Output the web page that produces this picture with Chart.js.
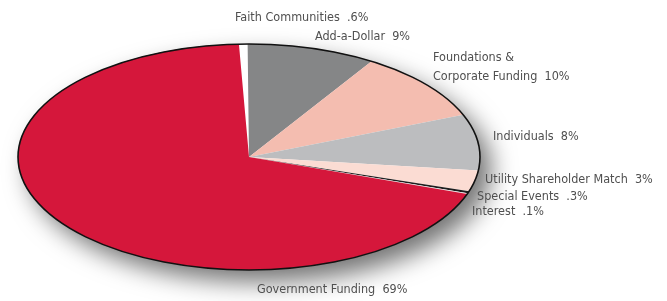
<!DOCTYPE html>
<html>
<head>
<meta charset="utf-8">
<script src="https://cdn.jsdelivr.net/npm/chart.js@4"></script>
<style>
  html, body { margin: 0; padding: 0; background: #fff; }
  #wrap { width: 667px; height: 301px; position: relative; }
</style>
</head>
<body>
<div id="wrap"><canvas id="pieChart" width="667" height="301"></canvas></div>
<script>
// data
const categories = ["Faith Communities", "Add-a-Dollar", "Foundations &\nCorporate Funding", "Individuals",
  "Utility Shareholder Match", "Special Events", "Interest", "Government Funding"];
const shares = [0.6, 9, 10, 8, 3, 0.3, 0.1, 69];
const shareLabels = [".6%", "9%", "10%", "8%", "3%", ".3%", ".1%", "69%"];
const sliceColors = ["#ffffff", "#858687", "#f4bdb0", "#bcbdbf", "#fbdcd3", "#1e1e1e", "#e6e6e6", "#d5173b"];

// label placement (left x, middle y of first line)
const labelPos = [[235, 18], [315, 37], [433, 58], [493, 137], [485, 180], [477, 197], [472, 212], [257, 290]];

// ellipse the pie is squashed into
const ell = { cx: 249, cy: 157, rx: 231, ry: 113 };

const squash = {
  id: "squash",
  beforeDatasetsDraw(chart) {
    const ctx = chart.ctx;
    const arc = chart.getDatasetMeta(0).data[0];
    // drop shadow
    ctx.save();
    ctx.shadowColor = "rgba(0,0,0,0.55)";
    ctx.shadowBlur = 24;
    ctx.shadowOffsetX = 11;
    ctx.shadowOffsetY = 12;
    ctx.fillStyle = "#fff";
    ctx.beginPath();
    ctx.ellipse(ell.cx, ell.cy, ell.rx, ell.ry, 0, 0, Math.PI * 2);
    ctx.fill();
    ctx.restore();

    ctx.save();
    ctx.translate(ell.cx, ell.cy);
    ctx.scale(ell.rx / arc.outerRadius, ell.ry / arc.outerRadius);
    ctx.translate(-arc.x, -arc.y);
  },
  afterDatasetsDraw(chart) {
    const ctx = chart.ctx;
    ctx.restore();
    ctx.save();
    ctx.strokeStyle = "#111";
    ctx.lineWidth = 1.6;
    ctx.beginPath();
    ctx.ellipse(ell.cx, ell.cy, ell.rx, ell.ry, 0, 0, Math.PI * 2);
    ctx.stroke();
    ctx.restore();
  },
  afterDraw(chart) {
    const ctx = chart.ctx;
    ctx.save();
    ctx.fillStyle = "#4f4f4f";
    ctx.font = "12.5px 'Liberation Sans Narrow', 'DejaVu Sans Condensed', sans-serif";
    if ("fontStretch" in ctx) ctx.fontStretch = "condensed";
    ctx.textBaseline = "middle";
    ctx.textAlign = "left";
    categories.forEach((name, i) => {
      const lines = (name + "  " + shareLabels[i]).split("\n");
      lines.forEach((ln, j) => ctx.fillText(ln, labelPos[i][0], labelPos[i][1] + j * 19));
    });
    ctx.restore();
  }
};

new Chart(document.getElementById("pieChart"), {
  type: "pie",
  data: {
    labels: categories,
    datasets: [{
      data: shares,
      backgroundColor: sliceColors,
      borderWidth: 0
    }]
  },
  options: {
    responsive: false,
    animation: false,
    rotation: -2.5,
    layout: { padding: 0 },
    plugins: {
      legend: { display: false },
      tooltip: { enabled: false }
    }
  },
  plugins: [squash]
});
</script>
</body>
</html>
